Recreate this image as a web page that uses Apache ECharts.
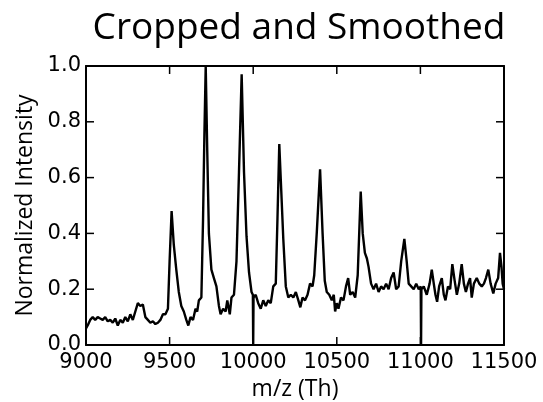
<!DOCTYPE html>
<html>
<head>
<meta charset="utf-8">
<script src="https://cdn.jsdelivr.net/npm/echarts@6/dist/echarts.min.js"></script>
<style>
html,body{margin:0;padding:0;background:#fff;}
#c{width:543px;height:402px;}
</style>
</head>
<body>
<div id="c"></div>
<script>
const titleText = "Cropped and Smoothed";
const xName = "m/z (Th)";
const yName = "Normalized Intensity";
const xTicks = [9000, 9500, 10000, 10500, 11000, 11500];
const yTicks = [0.0, 0.2, 0.4, 0.6, 0.8, 1.0];

const mz = [
9000,9010,9025,9040,9055,9070,9085,9100,9115,9130,9145,9160,9175,9190,9205,9220,9235,9250,9265,9280,9295,
9310,9325,9340,9355,9370,9385,9400,9415,9430,9445,9460,9475,9490,9500,9512,9525,9540,9555,9570,9585,9600,
9612,9625,9640,9655,9665,9675,9690,9700,9708,9716,9725,9735,9750,9765,9780,9795,9805,9820,9835,9845,9860,
9870,9885,9900,9915,9931,9945,9960,9975,9990,9998,10000,10002,10015,10030,10045,10060,10075,10090,10105,
10120,10135,10145,10156,10168,10180,10195,10210,10225,10240,10255,10270,10282,10295,10310,10325,10340,
10355,10365,10380,10400,10415,10428,10440,10455,10470,10482,10490,10500,10510,10525,10540,10555,10568,
10580,10595,10610,10625,10643,10655,10668,10680,10690,10705,10720,10735,10750,10765,10780,10795,10810,
10825,10840,10855,10870,10885,10904,10918,10930,10945,10960,10975,10990,11002,11004,11006,11020,11038,
11055,11068,11080,11090,11100,11112,11128,11140,11150,11165,11178,11191,11205,11218,11232,11247,11260,
11272,11285,11297,11307,11320,11337,11352,11367,11380,11392,11406,11420,11436,11450,11465,11476,11485,
11492,11500
];
const intensity = [
0.06,0.07,0.09,0.10,0.09,0.10,0.095,0.09,0.10,0.085,0.09,0.08,0.095,0.07,0.09,0.08,0.10,0.085,0.11,0.09,0.12,
0.15,0.14,0.145,0.10,0.09,0.08,0.085,0.075,0.08,0.09,0.11,0.11,0.13,0.30,0.48,0.36,0.27,0.19,0.14,0.12,0.09,
0.07,0.10,0.09,0.13,0.12,0.16,0.17,0.45,0.75,1.00,0.70,0.40,0.27,0.24,0.21,0.14,0.11,0.13,0.12,0.16,0.11,
0.17,0.18,0.30,0.62,0.97,0.62,0.39,0.26,0.19,0.18,0.0,0.17,0.18,0.15,0.13,0.16,0.14,0.16,0.15,
0.21,0.22,0.45,0.72,0.55,0.38,0.21,0.17,0.18,0.17,0.19,0.16,0.135,0.17,0.16,0.18,0.22,
0.21,0.25,0.40,0.63,0.40,0.23,0.19,0.18,0.16,0.18,0.12,0.15,0.13,0.17,0.16,0.21,0.24,
0.18,0.19,0.17,0.25,0.55,0.40,0.33,0.31,0.28,0.22,0.20,0.22,0.19,0.21,0.20,0.22,0.20,
0.24,0.26,0.20,0.21,0.30,0.38,0.30,0.22,0.21,0.20,0.22,0.20,0.21,0.0,0.20,0.21,0.18,
0.22,0.27,0.22,0.18,0.155,0.21,0.24,0.18,0.16,0.21,0.20,0.29,0.23,0.18,0.22,0.29,0.22,
0.19,0.22,0.24,0.17,0.22,0.24,0.22,0.21,0.22,0.24,0.27,0.22,0.185,0.22,0.24,0.33,0.28,
0.22,0.20
];

const data = mz.map((x, i) => [x, intensity[i]]);
const xMin = xTicks[0], xMax = xTicks[xTicks.length - 1];
const yMin = yTicks[0], yMax = yTicks[yTicks.length - 1];
const tickFont = 'DejaVu Sans';
const nameFont = 'Open Sans';
const TICK_LEN = 8;
const tickStyle = {stroke: '#000', lineWidth: 1.5};

const chart = echarts.init(document.getElementById('c'), null, {renderer: 'canvas'});
const frame = () => ({show: true, onZero: false, lineStyle: {color: '#000', width: 2}});

function xTickItem(params, api) {
  const v = api.value(0);
  const b = api.coord([v, yMin]);
  const t = api.coord([v, yMax]);
  return {type: 'group', children: [
    {type: 'line', shape: {x1: b[0], y1: b[1], x2: b[0], y2: b[1] - TICK_LEN}, style: tickStyle},
    {type: 'line', shape: {x1: t[0], y1: t[1], x2: t[0], y2: t[1] + TICK_LEN}, style: tickStyle}
  ]};
}
function yTickItem(params, api) {
  const v = api.value(1);
  const l = api.coord([xMin, v]);
  const r = api.coord([xMax, v]);
  return {type: 'group', children: [
    {type: 'line', shape: {x1: l[0], y1: l[1], x2: l[0] + TICK_LEN, y2: l[1]}, style: tickStyle},
    {type: 'line', shape: {x1: r[0], y1: r[1], x2: r[0] - TICK_LEN, y2: r[1]}, style: tickStyle}
  ]};
}

chart.setOption({
  animation: false,
  backgroundColor: '#fff',
  title: {
    text: titleText, left: 294, top: 5, textAlign: 'center',
    textStyle: {fontFamily: nameFont, fontWeight: 'normal', fontSize: 37, color: '#000'}
  },
  grid: {left: 86, right: 39, top: 66, bottom: 57, containLabel: false, outerBoundsMode: 'none'},
  xAxis: [{
    type: 'value', min: xMin, max: xMax, interval: 500, position: 'bottom',
    axisLine: frame(), axisTick: {show: false}, splitLine: {show: false},
    axisLabel: {fontFamily: tickFont, fontSize: 21, color: '#000', margin: 7,
      formatter: v => xTicks.includes(v) ? String(v) : ''},
    name: xName, nameLocation: 'middle', nameGap: 31,
    nameTextStyle: {fontFamily: nameFont, fontSize: 23, color: '#000'}
  }, {
    type: 'value', min: xMin, max: xMax, interval: 500, position: 'top',
    axisLine: frame(), axisTick: {show: false}, axisLabel: {show: false}, splitLine: {show: false}
  }],
  yAxis: [{
    type: 'value', min: yMin, max: yMax, interval: 0.2, position: 'left',
    axisLine: frame(), axisTick: {show: false}, splitLine: {show: false},
    axisLabel: {fontFamily: tickFont, fontSize: 21, color: '#000', margin: 5,
      formatter: v => v.toFixed(1)},
    name: yName, nameLocation: 'middle', nameGap: 48,
    nameTextStyle: {fontFamily: nameFont, fontSize: 23, color: '#000'}
  }, {
    type: 'value', min: yMin, max: yMax, interval: 0.2, position: 'right',
    axisLine: frame(), axisTick: {show: false}, axisLabel: {show: false}, splitLine: {show: false}
  }],
  series: [{
    type: 'line', data: data, xAxisIndex: 0, yAxisIndex: 0,
    showSymbol: false, symbol: 'none', smooth: false,
    lineStyle: {color: '#000', width: 2.4}, clip: true, z: 2
  }, {
    type: 'custom', xAxisIndex: 0, yAxisIndex: 0, silent: true, z: 3, clip: false,
    data: xTicks.map(v => [v, yMin]), renderItem: xTickItem
  }, {
    type: 'custom', xAxisIndex: 0, yAxisIndex: 0, silent: true, z: 3, clip: false,
    data: yTicks.map(v => [xMin, v]), renderItem: yTickItem
  }]
});
</script>
</body>
</html>
